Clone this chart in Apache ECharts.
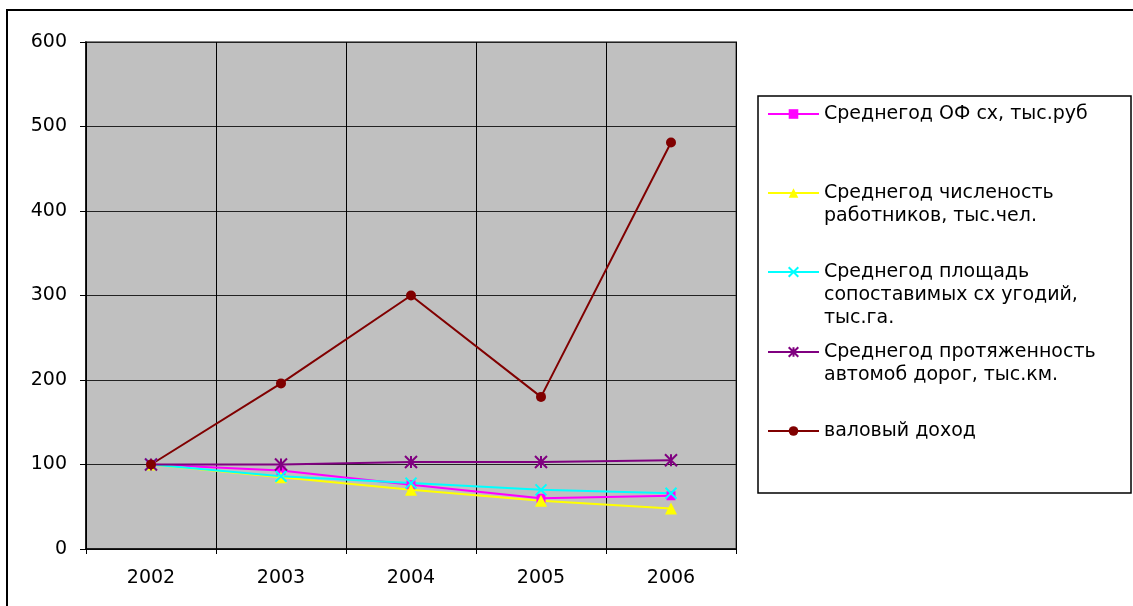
<!DOCTYPE html>
<html>
<head>
<meta charset="utf-8">
<script src="https://cdn.jsdelivr.net/npm/echarts@6/dist/echarts.min.js"></script>
<style>
  html, body { margin: 0; padding: 0; background: #fff; }
  #main { width: 1133px; height: 606px; }
</style>
</head>
<body>
<div id="main"></div>
<script>
// годы
var years = ['2002', '2003', '2004', '2005', '2006'];

// индексы, 2002 = 100
var fondy = [100, 93, 76, 60, 63];          // Среднегод ОФ сх
var rabotniki = [100, 85, 70, 57, 48];      // численность работников
var ugodia = [100, 86, 78, 70, 66];         // площадь угодий
var dorogi = [100, 100, 103, 103, 105];     // протяженность дорог
var dohod = [100, 196, 300, 180, 481];      // валовый доход

var names = [
    'Среднегод ОФ сх, тыс.руб',
    'Среднегод численость\nработников, тыс.чел.',
    'Среднегод площадь\nсопоставимых сх угодий,\nтыс.га.',
    'Среднегод протяженность\nавтомоб дорог, тыс.км.',
    'валовый доход'
];

var FONT = 'DejaVu Sans';
var FS = 19;
var LH = 23;

var myChart = echarts.init(document.getElementById('main'));

// символ слева от текста должен стоять на уровне первой строки
function padName(name) {
    var n = name.split('\n').length;
    var pad = '';
    for (var i = 1; i < n; i++) pad += '\n';
    return pad + name;
}

var legendY = [114, 193, 272, 352, 431];
var legends = names.map(function (nm, i) {
    var lines = nm.split('\n').length * 2 - 1;
    return {
        data: [nm],
        orient: 'vertical',
        left: 767,
        top: legendY[i] - lines * LH / 2,
        padding: 0,
        itemWidth: 51,
        itemHeight: 12,
        selectedMode: false,
        formatter: padName,
        textStyle: { fontFamily: FONT, fontSize: FS, color: '#000', lineHeight: LH }
    };
});

function lineSeries(name, data, color, symbol, size, stroke) {
    var s = {
        name: name,
        type: 'line',
        data: data,
        symbol: symbol,
        symbolSize: size,
        showAllSymbol: true,
        color: color,
        lineStyle: { color: color, width: 2 },
        itemStyle: { color: color },
        z: 3
    };
    if (stroke) {
        s.itemStyle = { color: 'none', borderColor: color, borderWidth: 2 };
    }
    return s;
}

var option = {
    animation: false,
    backgroundColor: '#fff',
    grid: {
        left: 86,
        top: 42,
        width: 650,
        height: 507,
        show: true,
        backgroundColor: '#C0C0C0',
        borderColor: '#808080',
        borderWidth: 2
    },
    legend: legends,
    xAxis: {
        type: 'category',
        data: years,
        boundaryGap: true,
        axisLine: { lineStyle: { color: '#000', width: 1.5 } },
        axisTick: { show: true, length: 5, lineStyle: { color: '#000' } },
        axisLabel: { margin: 20, fontFamily: FONT, fontSize: FS, color: '#000' },
        splitLine: { show: true, lineStyle: { color: '#000', width: 1 } }
    },
    yAxis: {
        type: 'value',
        min: 0,
        max: 600,
        interval: 100,
        axisLine: { show: true, lineStyle: { color: '#000', width: 1.5 } },
        axisTick: { show: true, length: 6, lineStyle: { color: '#000' } },
        axisLabel: { margin: 19, fontFamily: FONT, fontSize: FS, color: '#000' },
        splitLine: { show: true, lineStyle: { color: '#222', width: 1 } }
    },
    graphic: [
        {   // рамка всей диаграммы
            type: 'rect',
            shape: { x: 7, y: 10, width: 1140, height: 620 },
            style: { fill: 'none', stroke: '#000', lineWidth: 2 },
            silent: true
        },
        {   // рамка легенды
            type: 'rect',
            shape: { x: 758, y: 96, width: 373, height: 397 },
            style: { fill: 'none', stroke: '#000', lineWidth: 1.5 },
            silent: true
        }
    ],
    series: [
        lineSeries(names[0], fondy, '#FF00FF', 'rect', 9),
        lineSeries(names[1], rabotniki, '#FFFF00', 'triangle', 12),
        lineSeries(names[2], ugodia, '#00FFFF', 'path://M0,0L10,10M10,0L0,10', 11, true),
        lineSeries(names[3], dorogi, '#800080', 'path://M0,0L10,10M10,0L0,10M5,0L5,10', 12, true),
        lineSeries(names[4], dohod, '#800000', 'circle', 10)
    ]
};

myChart.setOption(option);
</script>
</body>
</html>
